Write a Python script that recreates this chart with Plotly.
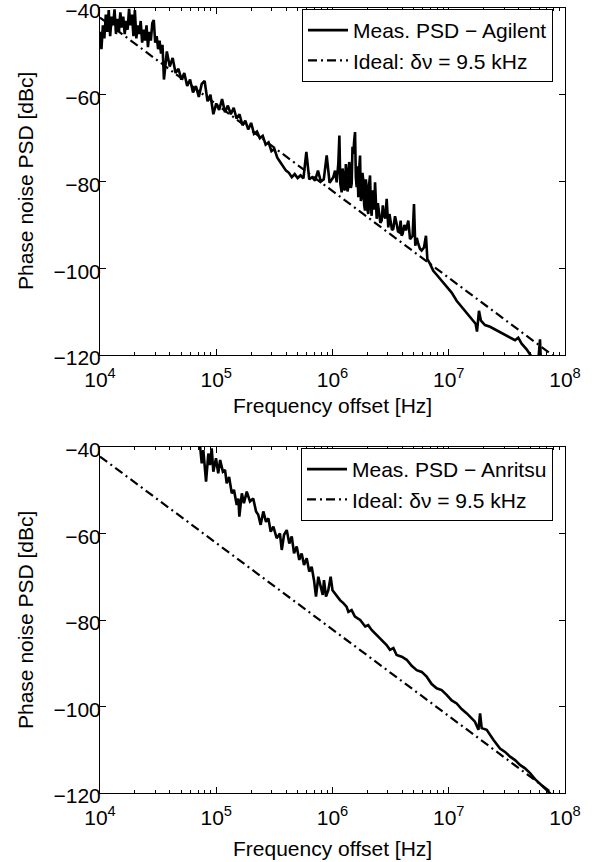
import plotly.graph_objects as go

# ---------------- data ----------------
# Ideal Lorentzian-limited phase noise (same in both panels)
ideal_freq = [1.0e4, 1.0e8]
ideal_psd = [-42.2, -122.2]

# Measured PSD - Agilent (top panel)
agilent_freq = [
    1.000e4, 1.029e4, 1.059e4, 1.090e4, 1.122e4, 1.155e4, 1.189e4, 1.223e4, 1.259e4, 1.296e4,
    1.334e4, 1.372e4, 1.413e4, 1.454e4, 1.496e4, 1.540e4, 1.585e4, 1.631e4, 1.679e4, 1.728e4,
    1.778e4, 1.830e4, 1.884e4, 1.939e4, 1.995e4, 2.054e4, 2.113e4, 2.175e4, 2.239e4, 2.304e4,
    2.371e4, 2.441e4, 2.512e4, 2.586e4, 2.661e4, 2.738e4, 2.818e4, 2.901e4, 2.985e4, 3.073e4,
    3.162e4, 3.255e4, 3.350e4, 3.448e4, 3.548e4,
    3.758e4, 3.981e4, 4.217e4, 4.467e4, 4.732e4, 5.012e4, 5.309e4,
    5.623e4, 5.957e4, 6.310e4, 6.683e4, 7.079e4, 7.499e4, 7.943e4, 8.414e4, 8.913e4, 9.441e4,
    1.000e5, 1.059e5, 1.122e5, 1.189e5, 1.259e5, 1.334e5, 1.413e5, 1.496e5, 1.585e5, 1.679e5,
    1.778e5, 1.884e5, 1.995e5, 2.113e5, 2.239e5, 2.371e5, 2.512e5, 2.661e5, 2.818e5, 2.985e5,
    3.162e5, 3.350e5, 3.548e5, 3.758e5, 3.981e5, 4.217e5, 4.467e5, 4.732e5, 5.012e5, 5.309e5,
    5.623e5, 5.957e5, 6.310e5, 6.683e5, 7.079e5, 7.499e5, 7.943e5, 8.414e5, 8.913e5, 9.441e5,
    1.016e6, 1.052e6, 1.086e6, 1.122e6, 1.146e6, 1.167e6, 1.199e6, 1.219e6, 1.239e6, 1.260e6,
    1.282e6, 1.303e6, 1.324e6, 1.346e6, 1.368e6, 1.392e6, 1.416e6, 1.439e6, 1.462e6, 1.486e6,
    1.510e6, 1.537e6, 1.563e6, 1.588e6, 1.614e6, 1.640e6, 1.667e6, 1.696e6, 1.726e6, 1.754e6,
    1.782e6, 1.811e6, 1.841e6, 1.873e6, 1.905e6, 1.936e6, 1.968e6, 2.000e6, 2.032e6, 2.068e6,
    2.104e6, 2.138e6, 2.173e6, 2.208e6, 2.244e6, 2.283e6, 2.323e6, 2.360e6, 2.399e6, 2.455e6,
    2.512e6, 2.580e6, 2.649e6, 2.710e6, 2.773e6, 2.850e6, 2.924e6, 2.970e6, 3.020e6, 3.090e6,
    3.162e6, 3.250e6, 3.334e6, 3.450e6, 3.565e6, 3.660e6, 3.758e6, 3.855e6, 3.930e6, 4.009e6,
    4.150e6, 4.285e6, 4.487e6, 4.645e6, 4.887e6, 5.023e6, 5.152e6, 5.310e6, 5.470e6, 5.650e6,
    5.848e6, 6.124e6, 6.368e6, 6.546e6,
    6.902e6, 7.362e6, 7.870e6, 8.690e6, 9.594e6, 1.059e7, 1.169e7, 1.291e7, 1.426e7, 1.574e7,
    1.702e7, 1.750e7, 1.820e7, 1.892e7, 2.051e7, 2.265e7, 2.500e7, 2.761e7, 3.048e7, 3.365e7,
    3.715e7, 3.963e7, 4.236e7, 4.677e7, 5.000e7, 5.346e7, 5.902e7, 6.095e7, 6.209e7,
]
agilent_psd = [
    -45.5, -49.5, -44.0, -47.0, -41.5, -45.5, -40.5, -46.5, -42.0, -44.0,
    -40.3, -46.0, -42.5, -45.5, -41.0, -44.5, -42.0, -46.0, -43.0, -45.0,
    -40.2, -44.0, -41.5, -46.5, -40.5, -47.0, -44.0, -46.0, -43.0, -48.0,
    -45.0, -47.5, -44.0, -49.0, -45.5, -47.5, -43.5, -42.8, -48.0, -46.5,
    -49.5, -47.5, -50.5, -48.5, -56.5,
    -50.0, -53.5, -51.5, -55.0, -54.0, -56.5, -55.0,
    -58.0, -56.5, -59.5, -58.0, -60.5, -57.5, -56.8, -61.5, -60.0, -64.5,
    -62.0, -63.5, -61.0, -64.0, -62.5, -64.5, -63.0, -65.5, -64.5, -67.0,
    -66.0, -68.0, -66.5, -69.0, -68.5, -70.0, -69.5, -71.5, -71.0, -73.0,
    -72.5, -74.5, -75.5, -76.5, -77.5, -78.0, -79.0, -78.3, -79.2, -78.6,
    -79.3, -73.2, -79.5, -79.0, -79.8, -77.5, -80.0, -79.5, -74.0, -80.3,
    -79.0, -77.5, -80.2, -75.9, -69.4, -80.5, -82.5, -77.0, -78.2, -82.0,
    -81.7, -76.0, -77.5, -82.3, -81.3, -75.5, -76.7, -81.5, -80.5, -72.0,
    -73.6, -70.5, -68.6, -79.0, -81.3, -76.5, -83.6, -77.0, -74.0, -84.5,
    -83.6, -78.0, -79.8, -85.5, -86.7, -79.5, -81.3, -86.5, -87.5, -80.5,
    -78.6, -86.0, -87.9, -82.0, -83.6, -86.5, -80.2, -84.0, -88.6, -85.0,
    -86.7, -89.5, -89.0, -85.5, -87.9, -88.5, -84.0, -88.0, -90.6, -87.5,
    -89.4, -91.2, -90.9, -88.0, -89.8, -91.5, -91.7, -89.0, -92.5, -92.1,
    -90.0, -91.3, -89.0, -93.3, -92.5, -85.2, -94.8, -93.0, -94.4, -95.5,
    -95.9, -95.2, -92.5, -97.9,
    -99.0, -100.6, -101.5, -102.9, -104.1, -105.6, -107.5, -108.9, -110.2, -111.5,
    -112.8, -114.6, -109.8, -112.1, -113.1, -113.5, -114.1, -114.8, -115.4, -116.0,
    -116.6, -116.0, -117.4, -118.7, -119.9, -121.0, -121.0, -116.4, -122.0,
]

# Measured PSD - Anritsu (bottom panel)
anritsu_freq = [
    7.24e4, 7.50e4, 7.74e4, 8.17e4, 8.55e4, 8.84e4, 9.14e4, 9.44e4, 9.95e4, 1.04e5,
    1.08e5, 1.14e5, 1.19e5, 1.23e5, 1.29e5, 1.36e5, 1.42e5, 1.50e5, 1.55e5, 1.58e5,
    1.66e5, 1.73e5, 1.83e5, 1.95e5, 2.08e5, 2.20e5, 2.30e5, 2.41e5, 2.54e5, 2.68e5,
    2.81e5, 2.94e5, 3.10e5, 3.31e5, 3.53e5, 3.66e5, 3.83e5, 4.04e5, 4.25e5, 4.46e5,
    4.67e5, 4.92e5, 5.18e5, 5.43e5, 5.69e5, 6.00e5, 6.31e5, 6.62e5, 6.93e5, 7.21e5,
    7.55e5, 7.92e5, 8.24e5, 8.45e5, 8.79e5, 9.20e5, 9.64e5, 1.00e6, 1.09e6, 1.16e6,
    1.24e6, 1.32e6, 1.37e6, 1.46e6, 1.56e6, 1.73e6, 1.91e6, 2.03e6, 2.17e6, 2.40e6,
    2.56e6, 2.74e6, 2.92e6, 3.12e6, 3.34e6, 3.56e6, 3.94e6, 4.35e6, 4.80e6, 5.30e6,
    5.85e6, 6.46e6, 7.13e6, 7.87e6, 8.69e6, 9.59e6, 1.06e7, 1.17e7, 1.29e7, 1.43e7,
    1.57e7, 1.68e7, 1.80e7, 1.86e7, 1.92e7, 2.12e7, 2.42e7, 2.76e7, 3.05e7, 3.37e7,
    3.72e7, 4.10e7, 4.53e7, 5.00e7, 5.52e7, 6.10e7, 6.96e7, 7.69e7,
]
anritsu_psd = [
    -39.5, -43.8, -40.7, -48.0, -41.5, -44.2, -40.3, -45.7, -42.6, -46.1,
    -43.0, -45.7, -45.3, -48.4, -46.9, -50.7, -49.9, -53.4, -51.9, -56.1,
    -50.7, -53.0, -50.3, -52.6, -51.9, -54.9, -55.7, -58.0, -54.9, -57.3,
    -56.5, -59.6, -58.4, -61.1, -60.0, -63.8, -60.3, -59.2, -62.3, -60.7,
    -64.6, -63.0, -66.1, -64.6, -67.3, -65.7, -68.8, -67.7, -70.8, -74.6,
    -70.0, -72.3, -74.2, -70.8, -74.6, -73.1, -70.0, -73.1, -74.6, -75.4,
    -76.1, -76.9, -78.1, -77.7, -79.2, -80.0, -81.5, -81.2, -82.3, -83.5,
    -84.2, -85.0, -85.8, -86.9, -86.5, -88.1, -88.5, -89.2, -90.6, -91.6,
    -92.0, -93.1, -94.8, -95.8, -96.2, -97.3, -98.6, -99.3, -100.6, -101.6,
    -102.7, -103.5, -105.4, -101.6, -105.0, -105.4, -107.7, -109.7, -110.5, -111.6,
    -112.4, -113.5, -114.3, -115.4, -116.8, -117.8, -119.3, -120.5,
]

x_tickvals = [1e4, 1e5, 1e6, 1e7, 1e8]
x_ticktext = ["10<sup>4</sup>", "10<sup>5</sup>", "10<sup>6</sup>", "10<sup>7</sup>", "10<sup>8</sup>"]
y_tickvals = [-120, -100, -80, -60, -40]
minor_vals = [m * 10 ** e for e in range(4, 8) for m in range(2, 10)]

legend_labels_top = ["Meas. PSD − Agilent", "Ideal: δν = 9.5 kHz"]
legend_labels_bot = ["Meas. PSD − Anritsu", "Ideal: δν = 9.5 kHz"]

# ---------------- figure ----------------
W, H = 595, 862
FONT = "Arial, 'Liberation Sans', sans-serif"
FS = 21
DASHDOT = "9px,4px,2px,4px"

fig = go.Figure()
fig.add_trace(go.Scatter(x=agilent_freq, y=agilent_psd, mode="lines", name=legend_labels_top[0],
                         line=dict(color="black", width=2.6), xaxis="x", yaxis="y", legend="legend"))
fig.add_trace(go.Scatter(x=ideal_freq, y=ideal_psd, mode="lines", name=legend_labels_top[1],
                         line=dict(color="black", width=2.2, dash=DASHDOT), xaxis="x", yaxis="y", legend="legend"))
fig.add_trace(go.Scatter(x=anritsu_freq, y=anritsu_psd, mode="lines", name=legend_labels_bot[0],
                         line=dict(color="black", width=2.6), xaxis="x2", yaxis="y2", legend="legend2"))
fig.add_trace(go.Scatter(x=ideal_freq, y=ideal_psd, mode="lines", name=legend_labels_bot[1],
                         line=dict(color="black", width=2.2, dash=DASHDOT), xaxis="x2", yaxis="y2", legend="legend2"))

x0, x1 = 100 / W, 565 / W
top_dom = [1 - 355 / H, 1 - 8 / H]
bot_dom = [1 - 793 / H, 1 - 447 / H]

def xaxis_cfg(anchor):
    return dict(type="log", range=[4, 8], domain=[x0, x1], anchor=anchor,
                tickmode="array", tickvals=x_tickvals, ticktext=x_ticktext,
                ticks="inside", ticklen=6, tickwidth=1, tickcolor="black",
                ticklabelstandoff=6, ticklabeloverflow="allow",
                minor=dict(tickmode="array", tickvals=minor_vals, ticks="inside", ticklen=3,
                           tickwidth=1, tickcolor="black", showgrid=False),
                showline=True, linecolor="black", linewidth=1, mirror="ticks",
                showgrid=False, zeroline=False, automargin=False,
                tickfont=dict(family=FONT, size=FS, color="black"))

def yaxis_cfg(anchor, dom):
    return dict(range=[-120, -40], domain=dom, anchor=anchor,
                tickmode="array", tickvals=y_tickvals,
                ticks="inside", ticklen=6, tickwidth=1, tickcolor="black",
                ticklabelstandoff=-6, ticklabelshift=3, ticklabeloverflow="allow",
                showline=True, linecolor="black", linewidth=1, mirror="ticks",
                showgrid=False, zeroline=False, automargin=False,
                tickfont=dict(family=FONT, size=FS, color="black"))

legend_common = dict(xanchor="right", yanchor="top", x=553 / W,
                     bgcolor="white", bordercolor="black", borderwidth=1,
                     font=dict(family=FONT, size=FS, color="black"),
                     itemwidth=40, tracegroupgap=0)

fig.update_layout(
    width=W, height=H,
    margin=dict(l=0, r=0, t=0, b=0),
    paper_bgcolor="white", plot_bgcolor="white",
    showlegend=True,
    xaxis=xaxis_cfg("y"), yaxis=yaxis_cfg("x", top_dom),
    xaxis2=xaxis_cfg("y2"), yaxis2=yaxis_cfg("x2", bot_dom),
    legend=dict(y=1 - 9 / H, **legend_common),
    legend2=dict(y=1 - 448 / H, **legend_common),
    font=dict(family=FONT, size=FS, color="black"),
)

# axis titles
for yc in [1 - 405 / H, 1 - 848 / H]:
    fig.add_annotation(text="Frequency offset [Hz]", x=(x0 + x1) / 2, y=yc, xref="paper", yref="paper",
                       showarrow=False, xanchor="center", yanchor="middle",
                       font=dict(family=FONT, size=FS, color="black"))
for yc in [1 - 181 / H, 1 - 620 / H]:
    fig.add_annotation(text="Phase noise PSD [dBc]", x=25 / W, y=yc, xref="paper", yref="paper",
                       showarrow=False, textangle=-90, xanchor="center", yanchor="middle",
                       font=dict(family=FONT, size=FS, color="black"))

fig.write_html("out.html", config={"displayModeBar": False},
               post_script="document.body.style.margin='0';document.body.style.overflow='hidden';")
